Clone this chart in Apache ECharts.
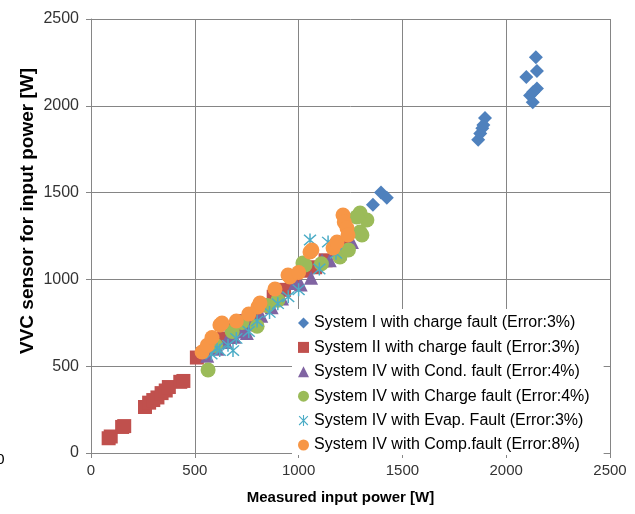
<!DOCTYPE html>
<html>
<head>
<meta charset="utf-8">
<script src="https://cdn.jsdelivr.net/npm/echarts@6/dist/echarts.min.js"></script>
<style>html,body{margin:0;padding:0;background:#fff}#c{width:635px;height:514px}</style>
</head>
<body>
<div id="c"></div>
<script>
var seriesNames = [
  'System I with charge fault (Error:3%)',
  'System II with charge fault (Error:3%)',
  'System IV with Cond. fault (Error:4%)',
  'System IV with Charge fault (Error:4%)',
  'System IV with Evap. Fault (Error:3%)',
  'System IV with Comp.fault (Error:8%)'
];
var xTicks = [0, 500, 1000, 1500, 2000, 2500];
var yTicks = [0, 500, 1000, 1500, 2000, 2500];

var sys1Charge = [[1358,1430],[1397,1500],[1425,1470],[1865,1805],[1875,1840],[1885,1870],[1890,1890],[1898,1930],
  [2143,2280],[2148,2200],[2097,2166],[2148,2100],[2130,2080],[2115,2060],[2128,2020]];
var sys2Charge = [[85,85],[95,95],[150,150],[160,155],[260,265],[280,290],[300,305],[320,320],[340,345],[360,360],[375,380],[430,410],[445,415],
  [510,550],[540,570],[590,610],[640,660],[690,710],[740,760],[790,790],[830,850],[880,900],[930,940],[980,990],[1030,1050],[1080,1070],[1130,1110],[1180,1170],[1220,1210]];
var sys4Cond = [[560,560],[610,600],[650,640],[670,668],[690,670],[730,700],[751,691],[770,740],[820,790],[870,840],[920,890],[983,979],[1010,970],[1060,1010],[1113,1110],[1150,1110],[1200,1150],[1257,1215]];
var sys4Charge = [[564,478],[600,620],[680,700],[727,752],[800,730],[850,850],[900,880],[1021,1094],[1031,1083],[1110,1090],[1199,1129],[1240,1170],[1296,1273],[1305,1256],[1329,1342],[1296,1382],[1280,1360]];
var sys4Evap = [[580,570],[607,605],[620,590],[660,620],[684,590],[700,660],[760,700],[800,760],[860,810],[900,860],[950,900],[1000,940],[1055,1227],[1142,1215],[1180,1150],[1100,1060]];
var sys4Comp = [[535,582],[560,620],[583,665],[621,737],[631,749],[700,760],[760,800],[804,841],[814,864],[886,945],[949,1025],[958,1014],[1000,1040],[1055,1158],[1064,1169],[1166,1181],[1185,1215],[1214,1371],[1220,1330],[1233,1296],[1238,1256]];

var starPath = 'path://M9,0L11,0L11,20L9,20Z M1.3,2.7L2.7,1.3L18.7,17.3L17.3,18.7Z M17.3,1.3L18.7,2.7L2.7,18.7L1.3,17.3Z';

var datasets = [sys1Charge, sys2Charge, sys4Cond, sys4Charge, sys4Evap, sys4Comp];
var colors = ['#4F81BD', '#C0504D', '#8064A2', '#9BBB59', '#4BACC6', '#F79646'];
var symbols = ['diamond', 'rect', 'triangle', 'circle', starPath, 'circle'];
var sizes = [14, 14, 14, 15, 13, 15];

var chart = echarts.init(document.getElementById('c'), null, {renderer: 'canvas'});
var series = datasets.map(function (d, i) {
  return {
    name: seriesNames[i],
    type: 'scatter',
    data: d,
    symbol: symbols[i],
    symbolSize: sizes[i],
    itemStyle: {color: colors[i], opacity: 1},
    emphasis: {disabled: true},
    z: 2 + i
  };
});

var axisCommon = {
  type: 'value', min: 0, max: 2500, interval: 500,
  axisLine: {show: true, lineStyle: {color: '#868686', width: 1}},
  axisTick: {show: true, length: 5, lineStyle: {color: '#868686'}},
  splitLine: {show: true, lineStyle: {color: '#858585', width: 1}},
  axisLabel: {color: '#333', fontSize: 14, fontFamily: 'Liberation Sans'}
};

chart.setOption({
  animation: false,
  color: colors,
  textStyle: {fontFamily: 'Liberation Sans'},
  grid: {left: 91, right: 25, top: 19, bottom: 61, containLabel: false},
  xAxis: Object.assign({}, axisCommon, {
    name: 'Measured input power [W]', nameLocation: 'middle', nameGap: 37,
    nameTextStyle: {color: '#000', fontSize: 15, fontWeight: 'bold', fontFamily: 'Liberation Sans', padding: [0, 20, 0, 0]},
    axisLabel: Object.assign({}, axisCommon.axisLabel, {fontSize: 15, margin: 10, formatter: function (v) { return xTicks.indexOf(v) >= 0 ? String(v) : ''; }})
  }),
  yAxis: Object.assign({}, axisCommon, {
    axisLabel: Object.assign({}, axisCommon.axisLabel, {fontSize: 16, margin: 12, formatter: function (v) { return yTicks.indexOf(v) >= 0 ? String(v) : ''; }})
  }),
  legend: {
    orient: 'vertical', left: 292, top: 309,
    padding: [6, 14, 2, 6],
    backgroundColor: '#fff',
    itemWidth: 11, itemHeight: 11, itemGap: 8.4,
    textStyle: {color: '#000', fontSize: 16, fontFamily: 'Liberation Sans'},
    selectedMode: false,
    data: seriesNames
  },
  graphic: [
    {type: 'text', x: 28, y: 211, rotation: Math.PI / 2,
     style: {text: 'VVC sensor for input power [W]', fontSize: 19, fontWeight: 'bold', fill: '#000', fontFamily: 'Liberation Sans', align: 'center', verticalAlign: 'middle'}},
    {type: 'text', left: -4, top: 453, style: {text: '0', fontSize: 14, fill: '#000', fontFamily: 'DejaVu Sans'}}
  ],
  series: series
});
</script>
</body>
</html>
